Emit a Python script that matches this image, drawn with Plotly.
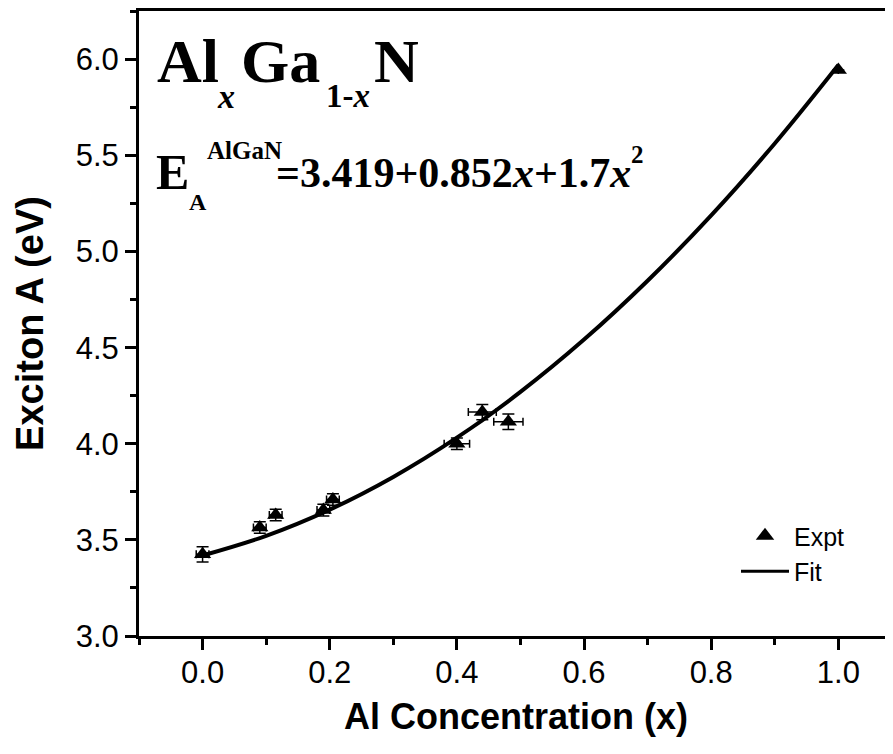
import plotly.graph_objects as go

# ---- data ----
al_conc = [0.0, 0.09, 0.115, 0.19, 0.205, 0.40, 0.44, 0.481, 1.0]
exciton_a = [3.425, 3.565, 3.630, 3.655, 3.710, 4.000, 4.165, 4.115, 5.945]
x_err = [0.01, 0.01, 0.01, 0.01, 0.01, 0.02, 0.022, 0.023, 0.0]
y_err = [0.04, 0.03, 0.03, 0.03, 0.03, 0.03, 0.04, 0.04, 0.0]

fit_x = [0.0, 0.1, 0.2, 0.3, 0.4, 0.5, 0.6, 0.7, 0.8, 0.9, 1.0]
fit_y = [3.419, 3.5212, 3.6574, 3.8276, 4.0318, 4.270, 4.5422, 4.8484, 5.1886, 5.5628, 5.971]

x_ticks = [0.0, 0.2, 0.4, 0.6, 0.8, 1.0]
x_tick_labels = ["0.0", "0.2", "0.4", "0.6", "0.8", "1.0"]
y_ticks = [3.0, 3.5, 4.0, 4.5, 5.0, 5.5, 6.0]
y_tick_labels = ["3.0", "3.5", "4.0", "4.5", "5.0", "5.5", "6.0"]

# the page body adds an 8px offset; figure size compensates
OFF = 8
W, H = 893 - OFF, 754 - OFF
ML, MR, MT, MB = 139 - OFF, 0, 11 - OFF, 118
PW, PH = W - ML - MR, H - MT - MB

def px(xp):
    return (xp - OFF - ML) / PW

def py(yp):
    return (H - MB - (yp - OFF)) / PH

fig = go.Figure()

fig.add_trace(go.Scatter(
    x=fit_x, y=fit_y, mode="lines", line=dict(color="black", width=4, shape="spline"),
    showlegend=False, hoverinfo="skip"))

fig.add_trace(go.Scatter(
    x=al_conc, y=exciton_a, mode="markers",
    marker=dict(symbol="triangle-up", size=15, color="black"),
    error_x=dict(type="data", array=x_err, color="black", thickness=1.5, width=4),
    error_y=dict(type="data", array=y_err, color="black", thickness=1.5, width=6),
    showlegend=False))

# legend entries
fig.add_trace(go.Scatter(x=[None], y=[None], mode="markers", name="Expt",
                         marker=dict(symbol="triangle-up", size=16, color="black")))
fig.add_trace(go.Scatter(x=[None], y=[None], mode="lines", name="Fit",
                         line=dict(color="black", width=3)))

serif = "Liberation Serif"

def ann(text, xp, yp, size, italic=False):
    fig.add_annotation(
        text=text, x=px(xp), y=py(yp), xref="paper", yref="paper",
        xanchor="left", yanchor="middle", showarrow=False,
        font=dict(family=serif, size=size, color="black", weight="bold",
                  style="italic" if italic else "normal"),
        borderpad=0)

# Al_x Ga_(1-x) N
ann("Al", 156, 61, 62)
ann("x", 216, 96, 34, italic=True)
ann("Ga", 240, 61, 62)
ann("1-<i>x</i>", 325, 96, 33)
ann("N", 373, 61, 62)

# E_A^AlGaN = ...
ann("E", 155, 172, 50)
ann("A", 188, 202, 24)
ann("AlGaN", 206, 151, 25)
ann("=3.419+0.852<i>x</i>+1.7<i>x</i>", 275, 173, 42)
ann("2", 630, 154, 25)

axis_font = dict(family="Liberation Sans", size=31, color="black")
title_font = dict(family="Liberation Sans", size=36, color="black", weight="bold")

fig.update_xaxes(
    range=[-0.1, 1.086], showgrid=False, zeroline=False,
    showline=True, linewidth=3, linecolor="black", mirror=True,
    tickmode="array", tickvals=x_ticks, ticktext=x_tick_labels,
    ticks="outside", ticklen=11, tickwidth=3, tickcolor="black",
    minor=dict(dtick=0.1, tick0=0, ticks="outside", ticklen=6, tickwidth=3, tickcolor="black"),
    tickfont=axis_font, ticklabelstandoff=-4,
    title=dict(text="Al Concentration (x)", font=title_font, standoff=15))

fig.update_yaxes(
    range=[3.0, 6.252], showgrid=False, zeroline=False,
    showline=True, linewidth=3, linecolor="black", mirror=False,
    tickmode="array", tickvals=y_ticks, ticktext=y_tick_labels,
    ticks="outside", ticklen=11, tickwidth=3, tickcolor="black",
    minor=dict(dtick=0.25, tick0=3.0, ticks="outside", ticklen=6, tickwidth=3, tickcolor="black"),
    tickfont=axis_font,
    title=dict(text="Exciton A (eV)", font=dict(family="Liberation Sans", size=38, color="black", weight="bold"), standoff=21))

fig.update_layout(
    width=W, height=H, margin=dict(l=ML, r=MR, t=MT, b=MB, autoexpand=False),
    paper_bgcolor="white", plot_bgcolor="white",
    legend=dict(x=px(736), y=py(513), xanchor="left", yanchor="top",
                font=dict(family="Liberation Sans", size=25, color="black"),
                bgcolor="rgba(0,0,0,0)", tracegroupgap=0, itemwidth=48),
)

fig.write_html("out.html")
